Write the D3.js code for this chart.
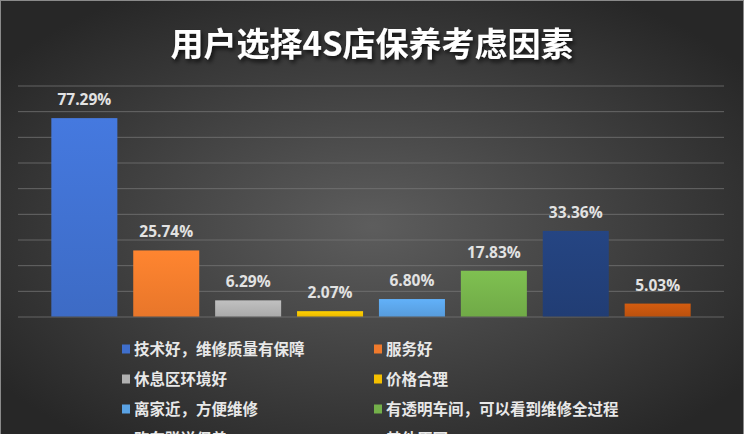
<!DOCTYPE html>
<html>
<head>
<meta charset="utf-8">
<script src="https://cdn.jsdelivr.net/npm/d3@7"></script>
<style>
  html, body { margin: 0; padding: 0; background: #2b2b2b; overflow: hidden; }
  svg { display: block; }
</style>
</head>
<body>
<div id="chart"></div>
<script>
// chart data
var title = '用户选择4S店保养考虑因素';
var categories = ['技术好，维修质量有保障', '服务好', '休息区环境好', '价格合理',
                  '离家近，方便维修', '有透明车间，可以看到维修全过程', '购车赠送保养', '其他原因'];
var values = [77.29, 25.74, 6.29, 2.07, 6.80, 17.83, 33.36, 5.03];
var yTicks = [0, 10, 20, 30, 40, 50, 60, 70, 80, 90];
var colors = ['#3f6fcc', '#f07a2c', '#b0b0b0', '#f5c000', '#5aa2e4', '#74b04a', '#223f78', '#c2540e'];

var W = 744, H = 434;
var svg = d3.select('#chart').append('svg')
    .attr('width', W)
    .attr('height', H);

var defs = svg.append('defs');

// background: dark radial gradient
var bg = defs.append('radialGradient')
    .attr('id', 'bg')
    .attr('cx', '50%').attr('cy', '52%').attr('r', '62%');
bg.append('stop').attr('offset', '0%').attr('stop-color', '#5d5d5d');
bg.append('stop').attr('offset', '100%').attr('stop-color', '#272727');

defs.append('filter').attr('id', 'shadow')
    .attr('x', '-10%').attr('y', '-30%').attr('width', '120%').attr('height', '160%')
  .append('feDropShadow')
    .attr('dx', 2).attr('dy', 3).attr('stdDeviation', 2)
    .attr('flood-color', '#000').attr('flood-opacity', 0.7);

// a gradient per bar, lighter at top
colors.forEach(function (c, i) {
  var g = defs.append('linearGradient')
      .attr('id', 'bar' + i)
      .attr('x1', 0).attr('y1', 0).attr('x2', 0).attr('y2', 1);
  g.append('stop').attr('offset', '0%').attr('stop-color', d3.color(c).brighter(0.25));
  g.append('stop').attr('offset', '100%').attr('stop-color', d3.color(c).darker(0.1));
});

svg.append('rect')
    .attr('width', W).attr('height', H)
    .attr('fill', 'url(#bg)');

// thin light frame like the screenshot edge
svg.append('rect')
    .attr('x', 0.5).attr('y', 0.5)
    .attr('width', W - 1).attr('height', H + 2)
    .attr('fill', 'none')
    .attr('stroke', '#8a8a8a')
    .attr('stroke-width', 1);

svg.append('text')
    .attr('x', W / 2)
    .attr('y', 56)
    .attr('text-anchor', 'middle')
    .attr('font-family', '"Noto Sans CJK SC", sans-serif')
    .attr('font-weight', 'bold')
    .attr('font-size', '33px')
    .attr('fill', '#ffffff')
    .attr('filter', 'url(#shadow)')
    .text(title);

// scales
var x = d3.scaleBand()
    .domain(categories)
    .range([18, 724])
    .paddingInner(0.194)
    .paddingOuter(0.407);

var y = d3.scaleLinear()
    .domain([0, 90])
    .range([316.5, 85.5]);

// gridlines
var grid = d3.axisLeft(y)
    .tickValues(yTicks)
    .tickSize(-(724 - 18))
    .tickFormat('');

svg.append('g')
    .attr('transform', 'translate(18,0)')
    .call(grid)
    .call(function (g) { g.select('.domain').remove(); })
    .selectAll('line')
    .attr('stroke', '#777777')
    .attr('stroke-opacity', 0.75);

// bars
svg.selectAll('rect.bar')
    .data(values).enter().append('rect')
    .attr('class', 'bar')
    .attr('x', function (d, i) { return x(categories[i]); })
    .attr('y', function (d) { return y(d); })
    .attr('width', x.bandwidth())
    .attr('height', function (d) { return y(0) - y(d); })
    .attr('fill', function (d, i) { return 'url(#bar' + i + ')'; });

// value labels
svg.selectAll('text.val')
    .data(values).enter().append('text')
    .attr('class', 'val')
    .attr('x', function (d, i) { return x(categories[i]) + x.bandwidth() / 2; })
    .attr('y', function (d) { return y(d) - 13; })
    .attr('text-anchor', 'middle')
    .attr('font-family', '"Open Sans", "Noto Sans", sans-serif')
    .attr('font-weight', 'bold')
    .attr('font-size', '15.5px')
    .attr('fill', '#e2e2e2')
    .text(function (d) { return d.toFixed(2) + '%'; });

// legend, two columns
var legendX = [122, 374];
var legend = svg.selectAll('g.leg')
    .data(categories).enter().append('g')
    .attr('class', 'leg')
    .attr('transform', function (d, i) {
      return 'translate(' + legendX[i % 2] + ',' + (349 + Math.floor(i / 2) * 30) + ')';
    });

legend.append('rect')
    .attr('x', 0).attr('y', -4.5)
    .attr('width', 8).attr('height', 9)
    .attr('fill', function (d, i) { return colors[i]; });

legend.append('text')
    .attr('x', 12)
    .attr('y', 0)
    .attr('dy', '0.36em')
    .attr('font-family', '"Noto Sans CJK SC", sans-serif')
    .attr('font-weight', 'bold')
    .attr('font-size', '15.5px')
    .attr('fill', '#e8e8e8')
    .text(function (d) { return d; });
</script>
</body>
</html>
